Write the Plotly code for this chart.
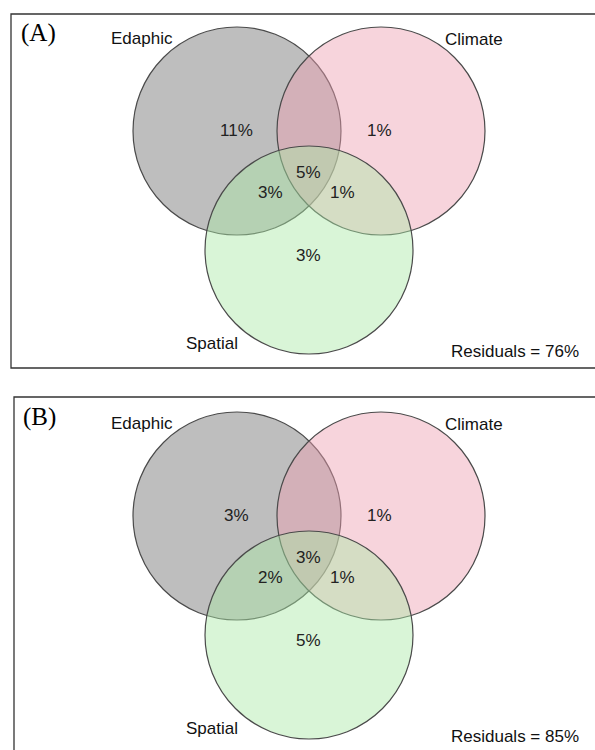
import plotly.graph_objects as go

# Variance partitioning: three explanatory sets
set_names = ["Edaphic", "Climate", "Spatial"]
panel_tags = ["(A)", "(B)"]

# Unique and shared fractions (%) for each panel, in the order:
# E only, C only, E∩C∩S, E∩S, C∩S, S only
region_keys = ["E", "C", "ECS", "ES", "CS", "S"]
values_A = [11, 1, 5, 3, 1, 3]
values_B = [3, 1, 3, 2, 1, 5]
residuals = [76, 85]

# Geometry of each panel (pixel space of the page)
panels = [
    dict(tag_xy=(38, 33), box=(11, 14, 600, 368), oy=0,
         values=values_A, resid=residuals[0]),
    dict(tag_xy=(39, 417), box=(14, 397, 600, 760), oy=385,
         values=values_B, resid=residuals[1]),
]
R = 104
circle_centres = {"Edaphic": (237, 131), "Climate": (381, 131), "Spatial": (309, 250)}
circle_fill = {"Edaphic": "rgba(125,125,125,0.5)",
               "Climate": "rgba(238,160,178,0.45)",
               "Spatial": "rgba(170,232,166,0.45)"}
set_label_xy = {"Edaphic": (142, 38), "Climate": (474, 39), "Spatial": (212, 343)}
region_xy = {"E": (236, 130), "C": (379, 130), "ECS": (308, 172),
             "ES": (270, 192), "CS": (342, 192), "S": (308, 255)}
resid_xy = (515, 351)

fig = go.Figure()
shapes, annotations = [], []
font = "Liberation Sans, Arial, sans-serif"

for i, p in enumerate(panels):
    oy = p["oy"]
    x0, y0, x1, y1 = p["box"]
    shapes.append(dict(type="rect", x0=x0, y0=y0, x1=x1, y1=y1,
                       line=dict(color="#333333", width=1.3), fillcolor="rgba(0,0,0,0)",
                       layer="below"))
    for name in set_names:
        cx, cy = circle_centres[name]
        cy += oy
        shapes.append(dict(type="circle", x0=cx - R, x1=cx + R, y0=cy - R, y1=cy + R,
                           fillcolor=circle_fill[name],
                           line=dict(color="#4a4a4a", width=1.2)))
        lx, ly = set_label_xy[name]
        annotations.append(dict(x=lx, y=ly + oy, text=name, showarrow=False,
                                font=dict(family=font, size=17, color="#111111")))
    for key, v in zip(region_keys, p["values"]):
        rx, ry = region_xy[key]
        annotations.append(dict(x=rx, y=ry + oy, text=f"{v}%", showarrow=False,
                                font=dict(family=font, size=17, color="#222222")))
    annotations.append(dict(x=resid_xy[0], y=resid_xy[1] + oy,
                            text=f"Residuals = {p['resid']}%", showarrow=False,
                            font=dict(family=font, size=17, color="#111111")))
    tx, ty = p["tag_xy"]
    annotations.append(dict(x=tx, y=ty, text=panel_tags[i], showarrow=False,
                            font=dict(family="Liberation Serif, Times New Roman, serif",
                                      size=25, color="#000000")))

fig.update_layout(
    width=595, height=750,
    margin=dict(l=0, r=0, t=0, b=0),
    paper_bgcolor="white", plot_bgcolor="white",
    xaxis=dict(range=[0, 595], visible=False, fixedrange=True),
    yaxis=dict(range=[750, 0], visible=False, fixedrange=True),
    shapes=shapes, annotations=annotations, showlegend=False,
)

fig.write_html("out.html")
